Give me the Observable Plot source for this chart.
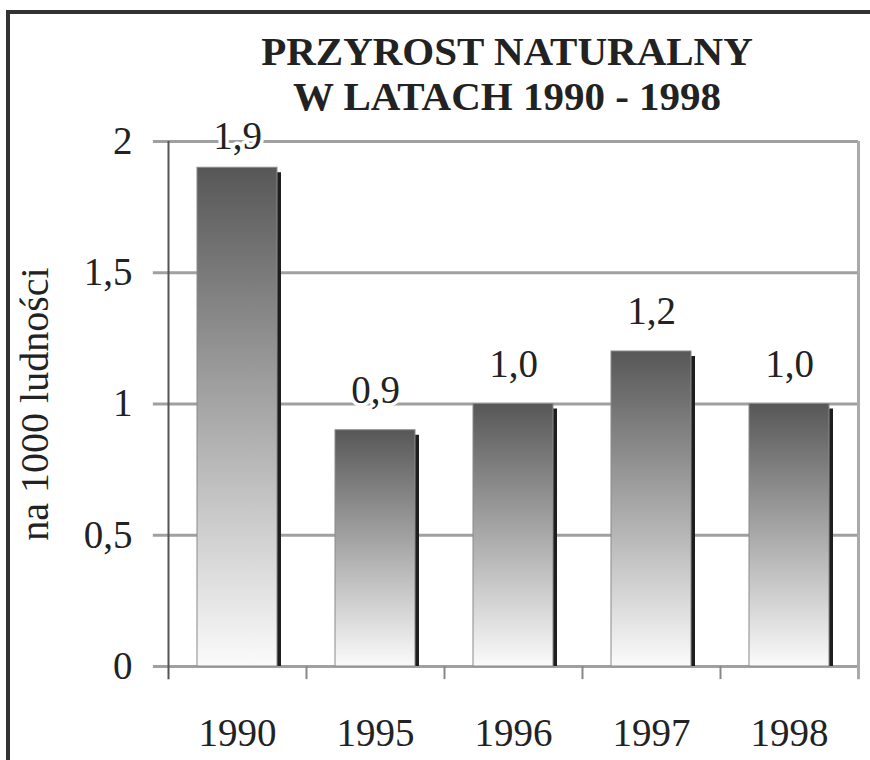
<!DOCTYPE html>
<html>
<head>
<meta charset="utf-8">
<script src="https://cdn.jsdelivr.net/npm/d3@7"></script>
<script src="https://cdn.jsdelivr.net/npm/@observablehq/plot@0.6"></script>
<style>
  html, body { margin: 0; padding: 0; background: #fff; }
  #wrap { position: relative; width: 870px; height: 760px; overflow: hidden; background: #fff; }
  #frame { position: absolute; left: 6px; top: 10px; width: 900px; height: 900px; border: 4px solid #333; box-sizing: border-box; }
  #title { position: absolute; left: 207px; top: 29px; width: 600px; text-align: center;
           font-family: 'Liberation Serif', serif; font-weight: 700;
           font-size: 41px; line-height: 45px; color: #222; }
  #chart { position: absolute; left: 0; top: 90px; }
</style>
</head>
<body>
<div id="wrap">
  <div id="frame"></div>
  <div id="title">PRZYROST NATURALNY<br>W LATACH 1990 - 1998</div>
  <div id="chart"></div>
</div>
<script>
const years = ["1990", "1995", "1996", "1997", "1998"];
const values = [1.9, 0.9, 1.0, 1.2, 1.0];
const valueLabels = ["1,9", "0,9", "1,0", "1,2", "1,0"];
const yTicks = [0, 0.5, 1, 1.5, 2];
const yTickLabels = ["0", "0,5", "1", "1,5", "2"];
const yAxisTitle = "na 1000 ludności";

const data = years.map((year, i) => ({year, i, value: values[i], label: valueLabels[i]}));
const LABEL_MAX = 1.87; // labels kept inside the plot area
const FONT = "'Liberation Serif', serif";

const svg = Plot.plot({
  width: 870,
  height: 670,
  marginLeft: 168,
  marginRight: 12,
  marginTop: 51,
  marginBottom: 94,
  style: {fontFamily: FONT, background: "transparent", overflow: "visible"},
  x: {domain: [0, years.length], axis: null},
  y: {domain: [0, 2]},
  marks: [
    Plot.ruleY(yTicks, {y: d => d, x1: -0.11, x2: years.length, stroke: "#a0a0a0", strokeWidth: 3}),
    Plot.ruleX(d3.range(1, years.length), {x: d => d, y1: -0.05, y2: 0, stroke: "#888", strokeWidth: 2}),
    Plot.ruleX([years.length], {x: d => d, y1: -0.05, y2: 2, stroke: "#aaa", strokeWidth: 3}),
    Plot.rect(data, {x1: d => d.i, x2: d => d.i + 1, y1: 0, y2: "value", insetLeft: 33, insetRight: 25, insetTop: 5, fill: "#1e1e1e"}),
    Plot.rect(data, {x1: d => d.i, x2: d => d.i + 1, y1: 0, y2: "value", insetLeft: 29, insetRight: 29, fill: "url(#barGrad)", stroke: "#8a8a8a", strokeWidth: 1}),
    Plot.ruleX([0], {x: d => d, y1: -0.05, y2: 2, stroke: "#555", strokeWidth: 2}),
    Plot.axisY(yTicks, {tickSize: 0, tickPadding: 36, tickFormat: d => yTickLabels[yTicks.indexOf(d)], fontSize: 39, fill: "#222", label: null}),
    Plot.text(data, {x: d => d.i + 0.5, frameAnchor: "bottom", text: "year", dy: 67, lineAnchor: "middle", fontSize: 39, fill: "#222"}),
    Plot.text(data, {x: d => d.i + 0.5, y: d => Math.min(d.value, LABEL_MAX), text: "label", dy: -39.5, lineAnchor: "middle", fontSize: 39, fill: "#222", stroke: "white", strokeWidth: 7}),
    Plot.text([yAxisTitle], {frameAnchor: "left", text: d => d, rotate: -90, dx: -133, fontSize: 40, fill: "#222", textAnchor: "middle", lineAnchor: "middle"})
  ]
});

const defs = d3.select(svg).insert("defs", ":first-child");
const grad = defs.append("linearGradient").attr("id", "barGrad")
  .attr("x1", 0).attr("y1", 0).attr("x2", 0).attr("y2", 1);
grad.append("stop").attr("offset", "0%").attr("stop-color", "#575757");
grad.append("stop").attr("offset", "100%").attr("stop-color", "#fbfbfb");

document.getElementById("chart").appendChild(svg);
</script>
</body>
</html>
